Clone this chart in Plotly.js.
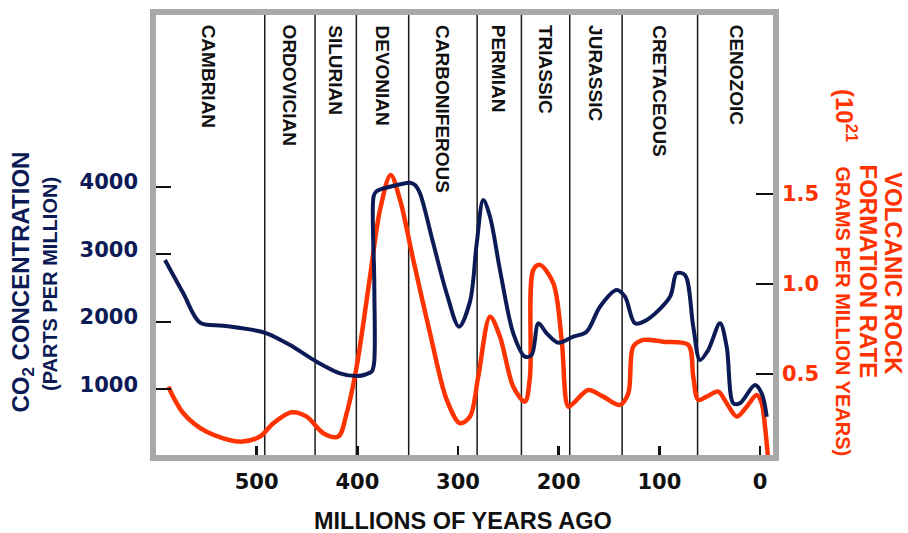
<!DOCTYPE html>
<html>
<head>
<meta charset="utf-8">
<script src="https://cdn.plot.ly/plotly-3.0.1.min.js"></script>
<style>
  html, body { margin: 0; padding: 0; background: #fff; }
  #chart { width: 908px; height: 533px; }
</style>
</head>
<body>
<div id="chart"></div>
<script>
// ---- Data ----
// CO2 concentration (ppm) versus millions of years ago
const co2Age = [591.1, 572.9, 556.3, 533.2, 500, 490.1, 466.9, 440.4, 417.3, 400.7, 391, 385.5, 383.3, 383.2, 383.8, 381, 367.6, 347.7, 342.7, 337.8, 324.6, 311.3, 299, 288.1, 281.4, 274.9, 268.2, 258.3, 245.1, 233.5, 226.8, 220.2, 211.9, 200.4, 185.5, 172.2, 159, 142.4, 134.1, 124.2, 112.6, 89.4, 82.8, 74.5, 66.3, 59.6, 51.4, 39.7, 33.1, 26.5, 19.9, 5, -1.7, -6.7];
const co2Ppm = [2916, 2423, 1988, 1944, 1870, 1831, 1658, 1411, 1239, 1199, 1225, 1270, 1400, 2600, 3860, 3935, 4001, 4061, 4027, 3904, 3164, 2423, 1929, 2300, 3164, 3805, 3557, 2768, 1831, 1485, 1510, 1979, 1831, 1692, 1781, 1855, 2225, 2472, 2373, 1979, 2028, 2373, 2719, 2694, 1929, 1436, 1584, 1979, 1633, 795, 795, 1066, 943, 597];

// Volcanic rock formation rate (10^21 g per million years)
const volAge = [587.8, 572.9, 549.7, 516.6, 496.7, 483.5, 465.2, 450.3, 433.8, 418.9, 410.6, 400.7, 387.4, 377.5, 366.9, 357.6, 344.4, 327.8, 311.2, 298, 288.1, 279.9, 268.2, 258.3, 245.1, 233.5, 228.5, 225.2, 218.6, 205.3, 197, 190.4, 183.8, 170.6, 155.7, 139.1, 130.8, 125.9, 115.9, 96.1, 71.2, 66.3, 61.3, 53, 41.4, 33.1, 23.1, 13.2, 3.3, -1.7, -5, -8.2];
const volRate = [0.429, 0.282, 0.179, 0.124, 0.152, 0.226, 0.287, 0.263, 0.171, 0.152, 0.282, 0.541, 1.041, 1.411, 1.606, 1.467, 1.133, 0.726, 0.356, 0.226, 0.263, 0.485, 0.818, 0.707, 0.429, 0.346, 0.485, 1.078, 1.106, 1.004, 0.689, 0.318, 0.346, 0.411, 0.374, 0.328, 0.393, 0.652, 0.689, 0.679, 0.661, 0.485, 0.356, 0.374, 0.402, 0.337, 0.263, 0.318, 0.383, 0.337, 0.207, 0.022];

// Geologic periods and the boundaries between them (Myr ago)
const periodNames = ['CAMBRIAN', 'ORDOVICIAN', 'SILURIAN', 'DEVONIAN', 'CARBONIFEROUS', 'PERMIAN', 'TRIASSIC', 'JURASSIC', 'CRETACEOUS', 'CENOZOIC'];
const periodBoundaries = [492, 442, 401, 349, 281, 237, 189, 137, 62];

// Axis ticks
const xTickVals = [500, 400, 300, 200, 100, 0];
const xTickText = ['500', '400', '300', '200', '100', '0'];
const co2TickVals = [1000, 2000, 3000, 4000];
const co2TickText = ['1000', '2000', '3000', '4000'];
const volTickVals = [0.5, 1.0, 1.5];
const volTickText = ['0.5', '1.0', '1.5'];

// ---- Styling ----
const NAVY = '#0c1b56';
const RED = '#ff3300';
const SANS = 'Liberation Sans, Arial, sans-serif';
const WIDE = 'DejaVu Sans, Verdana, sans-serif';
const xRange = [603, -15.9];
const co2Range = [-15, 6588];
const co2LabelRange = [-89, 6514];   // the printed CO2 numbers sit a little above their tick marks
const volRange = [0.033, 2.511];

const traces = [
  {
    x: volAge, y: volRate, yaxis: 'y', xaxis: 'x',
    type: 'scatter', mode: 'lines',
    line: { color: RED, width: 4.5, shape: 'spline', smoothing: 0.9 },
    hoverinfo: 'skip'
  },
  {
    x: co2Age, y: co2Ppm, yaxis: 'y2', xaxis: 'x',
    type: 'scatter', mode: 'lines',
    line: { color: NAVY, width: 4, shape: 'spline', smoothing: 0.9 },
    hoverinfo: 'skip'
  },
  { // carrier for the CO2 label axis
    x: [], y: [], yaxis: 'y3', xaxis: 'x', type: 'scatter', mode: 'lines',
    hoverinfo: 'skip'
  }
];

// vertical period boundary lines
const shapes = periodBoundaries.map(a => ({
  type: 'line', xref: 'x', yref: 'paper', x0: a, x1: a, y0: 0, y1: 1,
  line: { color: '#1a1a1a', width: 1.5 }, layer: 'below'
}));
// thick grey frame
shapes.push({
  type: 'rect', xref: 'paper', yref: 'paper', x0: 0, x1: 1, y0: 0, y1: 1,
  line: { color: '#a9a9a9', width: 6 }, layer: 'above'
});

// period labels centred in each visible band
const edges = [xRange[0]].concat(periodBoundaries, [xRange[1]]);
const annotations = periodNames.map((name, i) => ({
  text: name, x: (edges[i] + edges[i + 1]) / 2, xref: 'x',
  y: 0.9753, yref: 'paper', xanchor: 'center', yanchor: 'top',
  textangle: 90, showarrow: false,
  font: { family: SANS, size: 19, color: '#111', weight: 'bold' }
}));

// axis titles (placed as annotations for exact layout)
function px2x(px) { return (px - 153) / 623; }
function px2y(py) { return (458 - py) / 446; }
annotations.push(
  { text: 'CO<sub>2</sub> CONCENTRATION', xref: 'paper', yref: 'paper',
    x: px2x(22), y: px2y(282.5), xanchor: 'center', yanchor: 'middle',
    textangle: -90, showarrow: false,
    font: { family: SANS, size: 24, color: NAVY, weight: 'bold' } },
  { text: '(PARTS PER MILLION)', xref: 'paper', yref: 'paper',
    x: px2x(50), y: px2y(284), xanchor: 'center', yanchor: 'middle',
    textangle: -90, showarrow: false,
    font: { family: SANS, size: 20, color: NAVY, weight: 'bold' } },
  { text: 'VOLCANIC ROCK', xref: 'paper', yref: 'paper',
    x: px2x(894), y: px2y(273), xanchor: 'center', yanchor: 'middle',
    textangle: 90, showarrow: false,
    font: { family: SANS, size: 24, color: RED, weight: 'bold' } },
  { text: 'FORMATION RATE', xref: 'paper', yref: 'paper',
    x: px2x(868.5), y: px2y(271), xanchor: 'center', yanchor: 'middle',
    textangle: 90, showarrow: false,
    font: { family: SANS, size: 24, color: RED, weight: 'bold' } },
  { text: '(10<sup>21</sup>', xref: 'paper', yref: 'paper',
    x: px2x(846), y: px2y(115), xanchor: 'center', yanchor: 'middle',
    textangle: 90, showarrow: false,
    font: { family: SANS, size: 24, color: RED, weight: 'bold' } },
  { text: 'GRAMS PER MILLION YEARS)', xref: 'paper', yref: 'paper',
    x: px2x(842.5), y: px2y(311), xanchor: 'center', yanchor: 'middle',
    textangle: 90, showarrow: false,
    font: { family: SANS, size: 20, color: RED, weight: 'bold' } },
  { text: 'MILLIONS OF YEARS AGO', xref: 'paper', yref: 'paper',
    x: px2x(463), y: px2y(521), xanchor: 'center', yanchor: 'middle',
    showarrow: false,
    font: { family: SANS, size: 23.5, color: '#111', weight: 'bold' } }
);

const layout = {
  width: 908, height: 533,
  margin: { l: 153, r: 132, t: 12, b: 75, pad: 0 },
  paper_bgcolor: '#ffffff', plot_bgcolor: '#ffffff',
  showlegend: false,
  xaxis: {
    range: xRange, showgrid: false, zeroline: false, showline: false,
    tickmode: 'array', tickvals: xTickVals, ticktext: xTickText,
    ticks: 'inside', ticklen: 12, tickwidth: 2.5, tickcolor: '#111',
    ticklabelstandoff: 9,
    tickfont: { family: WIDE, size: 21, color: '#111', weight: 'bold' }
  },
  yaxis: {
    range: volRange, side: 'right', showgrid: false, zeroline: false, showline: false,
    tickmode: 'array', tickvals: volTickVals, ticktext: volTickText,
    ticks: 'inside', ticklen: 20, tickwidth: 2, tickcolor: '#111',
    ticklabelstandoff: 5,
    tickfont: { family: WIDE, size: 21, color: RED, weight: 'bold' }
  },
  yaxis2: {
    range: co2Range, side: 'left', overlaying: 'y', showgrid: false, zeroline: false, showline: false,
    tickmode: 'array', tickvals: co2TickVals, ticktext: co2TickText,
    ticks: 'inside', ticklen: 18, tickwidth: 2, tickcolor: '#111',
    showticklabels: false
  },
  yaxis3: {
    range: co2LabelRange, side: 'left', overlaying: 'y', showgrid: false, zeroline: false, showline: false,
    tickmode: 'array', tickvals: co2TickVals, ticktext: co2TickText,
    ticks: '', ticklabelstandoff: 14,
    tickfont: { family: WIDE, size: 21, color: NAVY, weight: 'bold' }
  },
  shapes: shapes,
  annotations: annotations
};

Plotly.newPlot('chart', traces, layout, { staticPlot: true, displayModeBar: false });
</script>
</body>
</html>
